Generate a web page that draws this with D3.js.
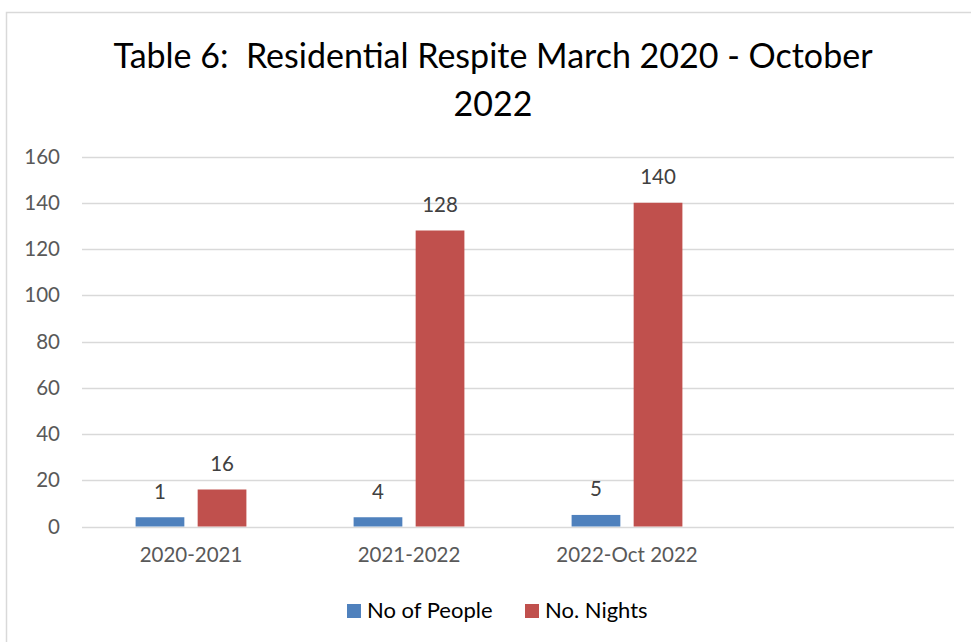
<!DOCTYPE html>
<html>
<head>
<meta charset="utf-8">
<script src="https://cdn.jsdelivr.net/npm/d3@7"></script>
<style>
  body { margin: 0; background: #fff; }
  svg { display: block; font-family: Lato, "Open Sans", sans-serif; }
</style>
</head>
<body>
<svg class="chart"></svg>
<script>
var categories = ["2020-2021", "2021-2022", "2022-Oct 2022", ""];
var seriesNames = ["No of People", "No. Nights"];
var people = [4, 4, 5, null];          // bar heights as drawn
var peopleLabels = ["1", "4", "5", ""]; // data labels as printed
var nights = [16, 128, 140, null];
var yTicks = [0, 20, 40, 60, 80, 100, 120, 140, 160];
var colors = ["#4f81bd", "#c0504d"];

var W = 971, H = 642;
var plot = { left: 82, right: 954, top: 156.5, bottom: 526.5 };

var svg = d3.select(".chart").attr("width", W).attr("height", H);

// outer chart border
svg.append("rect")
    .attr("x", 6.5).attr("y", 12.5)
    .attr("width", W + 20).attr("height", H + 20)
    .attr("fill", "#fff").attr("stroke", "#d9d9d9").attr("stroke-width", 1.5);

// title
var title = svg.append("text")
    .attr("text-anchor", "middle")
    .attr("font-size", 34)
    .attr("fill", "#000");
title.append("tspan").attr("x", 493).attr("y", 68).text("Table 6:\u00a0 Residential Respite March 2020 - October");
title.append("tspan").attr("x", 493).attr("y", 116).text("2022");

var x0 = d3.scaleBand().domain(categories).range([plot.left, plot.right]).padding(0);
var x1 = d3.scaleBand().domain(seriesNames)
    .range([x0.bandwidth() / 2 - 55.4, x0.bandwidth() / 2 + 55.4])
    .paddingInner(0.2145).paddingOuter(0);
var y = d3.scaleLinear().domain([0, 160]).range([plot.bottom, plot.top]);

// gridlines
svg.append("g").selectAll("line")
    .data(yTicks)
    .enter().append("line")
    .attr("x1", plot.left).attr("x2", plot.right)
    .attr("y1", function (d) { return Math.round(y(d)) + 0.5; })
    .attr("y2", function (d) { return Math.round(y(d)) + 0.5; })
    .attr("stroke", "#d9d9d9").attr("stroke-width", 1.5);

// y axis labels
var yAxis = svg.append("g")
    .attr("transform", "translate(" + plot.left + ",0)")
    .call(d3.axisLeft(y).tickValues(yTicks).tickSize(0).tickPadding(22));
yAxis.select(".domain").remove();
yAxis.selectAll("text")
    .attr("font-family", "Lato, sans-serif")
    .attr("font-size", 20.5).attr("fill", "#595959");

// x axis labels
var xAxis = svg.append("g")
    .attr("transform", "translate(0," + plot.bottom + ")")
    .call(d3.axisBottom(x0).tickSize(0).tickPadding(21));
xAxis.select(".domain").remove();
xAxis.selectAll("text")
    .attr("font-family", "Lato, sans-serif")
    .attr("font-size", 20.5).attr("fill", "#595959");

// bars
var rows = categories.map(function (c, i) {
    return [
        { cat: c, s: seriesNames[0], v: people[i], label: peopleLabels[i] },
        { cat: c, s: seriesNames[1], v: nights[i], label: nights[i] == null ? "" : String(nights[i]) }
    ];
});
var flat = [].concat.apply([], rows).filter(function (d) { return d.v != null; });

svg.append("g").selectAll("rect")
    .data(flat)
    .enter().append("rect")
    .attr("x", function (d) { return x0(d.cat) + x1(d.s); })
    .attr("width", x1.bandwidth())
    .attr("y", function (d) { return y(d.v); })
    .attr("height", function (d) { return y(0) - y(d.v); })
    .attr("fill", function (d) { return colors[seriesNames.indexOf(d.s)]; });

// data labels
svg.append("g").selectAll("text")
    .data(flat)
    .enter().append("text")
    .attr("text-anchor", "middle")
    .attr("x", function (d) { return x0(d.cat) + x1(d.s) + x1.bandwidth() / 2; })
    .attr("y", function (d) { return y(d.v) - 18.5; })
    .attr("font-size", 20.5).attr("fill", "#404040")
    .text(function (d) { return d.label; });

// legend
var legend = svg.append("g");
var legX = [347, 525];
seriesNames.forEach(function (name, i) {
    legend.append("rect")
        .attr("x", legX[i]).attr("y", 604)
        .attr("width", 14).attr("height", 14)
        .attr("fill", colors[i]);
    legend.append("text")
        .attr("x", legX[i] + 20).attr("y", 618)
        .attr("font-size", 22).attr("fill", "#000")
        .text(name);
});
</script>
</body>
</html>
